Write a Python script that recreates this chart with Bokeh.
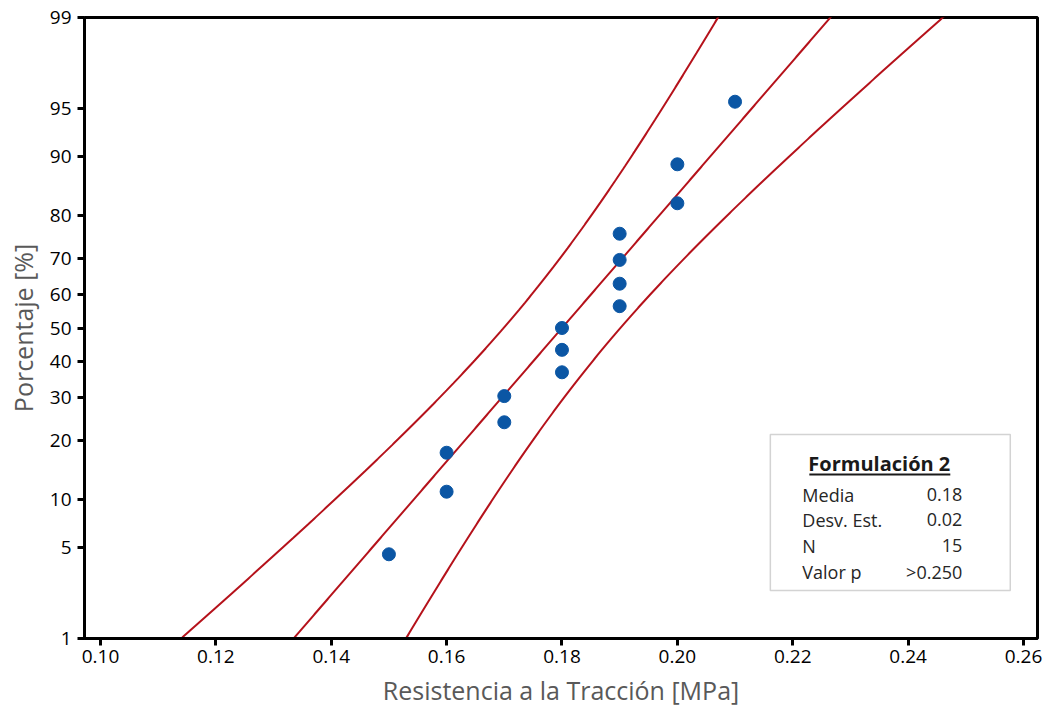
from statistics import NormalDist
import numpy as np
from bokeh.plotting import figure
from bokeh.models import Range1d, FixedTicker, CustomJSTickFormatter, PrintfTickFormatter, BoxAnnotation, Label
from bokeh.embed import file_html
from bokeh.resources import INLINE

# ---- data ----
resistencia = [0.15, 0.16, 0.16, 0.17, 0.17, 0.18, 0.18, 0.18, 0.19, 0.19, 0.19, 0.19, 0.20, 0.20, 0.21]
porcentaje = [4.5, 11.0, 17.5, 24.0, 30.5, 37.0, 43.5, 50.0, 56.5, 63.0, 69.5, 76.0, 82.5, 89.0, 95.5]
media = 0.18
desv_est = 0.02
n_obs = 15
valor_p = ">0.250"
y_tick_pct = [1, 5, 10, 20, 30, 40, 50, 60, 70, 80, 90, 95, 99]
x_ticks = [0.10, 0.12, 0.14, 0.16, 0.18, 0.20, 0.22, 0.24, 0.26]

nd = NormalDist()
def zq(p):
    return nd.inv_cdf(p / 100.0)

z_lo, z_hi = zq(1), zq(99)

FONT = "Open Sans"
RED = "#b5121b"
BLUE = "#0b56a4"

p = figure(width=1047, height=715, output_backend="svg", toolbar_location=None,
           x_range=Range1d(0.09723, 0.26243), y_range=Range1d(z_lo, z_hi),
           min_border_left=84, min_border_right=10, min_border_top=17, min_border_bottom=77)
p.background_fill_color = "white"
p.border_fill_color = "white"
p.grid.visible = False
p.outline_line_color = "black"
p.outline_line_width = 3

# fitted line and 95% confidence band
zz = np.linspace(z_lo - 0.3, z_hi + 0.3, 400)
fit = media + zz * desv_est
half = nd.inv_cdf(0.975) * desv_est * np.sqrt(1.0 / n_obs + zz ** 2 / (2.0 * n_obs))
p.line(fit, zz, line_color=RED, line_width=2)
p.line(fit - half, zz, line_color=RED, line_width=2)
p.line(fit + half, zz, line_color=RED, line_width=2)

p.scatter([float(v) for v in resistencia], [zq(v) for v in porcentaje], size=13,
          fill_color=BLUE, line_color=BLUE)

# axes
for ax in (p.xaxis[0], p.yaxis[0]):
    ax.axis_line_color = "black"
    ax.axis_line_width = 3
    ax.major_tick_line_color = "black"
    ax.major_tick_line_width = 3
    ax.major_tick_out = 7
    ax.major_tick_in = 0
    ax.minor_tick_line_color = None
    ax.major_label_text_font = FONT
    ax.major_label_text_font_size = "19px"
    ax.major_label_text_color = "#000000"
    ax.axis_label_text_font = FONT
    ax.axis_label_text_font_size = "25px"
    ax.axis_label_text_font_style = "normal"
    ax.axis_label_text_color = "#595959"

p.xaxis[0].ticker = FixedTicker(ticks=x_ticks)
p.xaxis[0].formatter = PrintfTickFormatter(format="%.2f")
p.xaxis[0].axis_label = "Resistencia a la Tracción [MPa]"
p.xaxis[0].major_label_standoff = 4
p.xaxis[0].axis_label_standoff = 7

yt = [zq(v) for v in y_tick_pct]
p.yaxis[0].ticker = FixedTicker(ticks=yt)
p.yaxis[0].formatter = CustomJSTickFormatter(args=dict(t=yt, l=[str(v) for v in y_tick_pct]), code="""
let b = 0;
for (let i = 0; i < t.length; i++) { if (Math.abs(t[i] - tick) < Math.abs(t[b] - tick)) b = i; }
return l[b];
""")
p.yaxis[0].axis_label = "Porcentaje [%]"
p.yaxis[0].major_label_standoff = 6
p.yaxis[0].axis_label_standoff = 7

# info box (annotation), positioned in data units
px = 0.02 / 115.4
def X(pix):
    return 0.10 + (pix - 100) * px
def Y(pix):
    return (327.5 - pix) / (621.0 / (z_hi - z_lo))

p.add_layout(BoxAnnotation(left=X(770), right=X(1010), top=Y(434), bottom=Y(590),
                           fill_color="white", fill_alpha=1.0, line_color="#6e6e6e", line_width=1.5))
p.add_layout(Label(x=X(879), y=Y(463), text="Formulación 2", text_font=FONT, text_font_size="20px",
                   text_font_style="bold", text_color="#1a1a1a", text_align="center", text_baseline="middle"))
p.add_layout(BoxAnnotation(left=X(809), right=X(950), top=Y(473), bottom=Y(475),
                           fill_color="#1a1a1a", fill_alpha=1.0, line_color=None))
rows = [("Media", f"{media:.2f}"), ("Desv. Est.", f"{desv_est:.2f}"), ("N", str(n_obs)), ("Valor p", valor_p)]
ys = [494, 519, 545, 571]
for (lab, val), yy in zip(rows, ys):
    p.add_layout(Label(x=X(802), y=Y(yy), text=lab, text_font=FONT, text_font_size="18px",
                       text_color="#262626", text_align="left", text_baseline="middle"))
    p.add_layout(Label(x=X(962), y=Y(yy), text=val, text_font=FONT, text_font_size="18px",
                       text_color="#262626", text_align="right", text_baseline="middle"))

open("out.html", "w").write(file_html(p, INLINE))
